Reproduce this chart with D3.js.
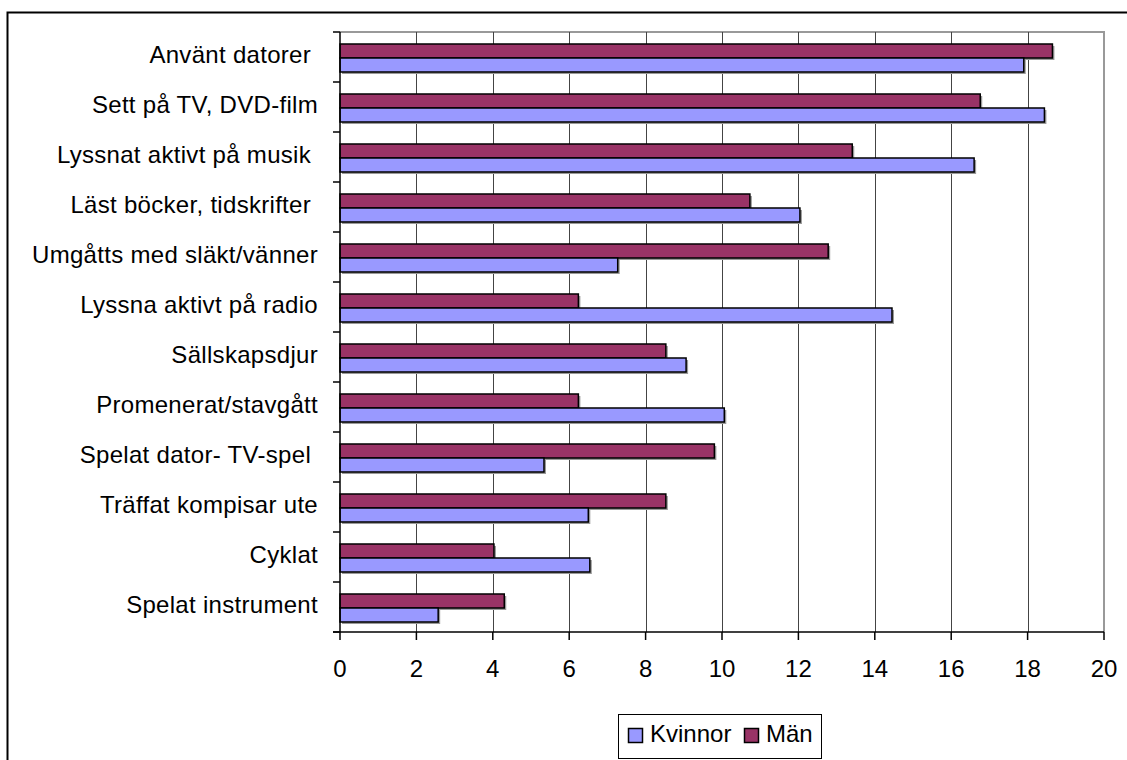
<!DOCTYPE html>
<html>
<head>
<meta charset="utf-8">
<script src="https://cdn.jsdelivr.net/npm/d3@7"></script>
<style>
  html, body { margin: 0; padding: 0; background: #fff; }
  svg { display: block; }
  text { font-family: "Liberation Sans", Arial, sans-serif; fill: #000; }
</style>
</head>
<body>
<svg id="chart" width="1127" height="760"></svg>
<script>
const categories = [
  "Använt datorer ",
  "Sett på TV, DVD-film",
  "Lyssnat aktivt på musik ",
  "Läst böcker, tidskrifter ",
  "Umgåtts med släkt/vänner",
  "Lyssna aktivt på radio",
  "Sällskapsdjur",
  "Promenerat/stavgått",
  "Spelat dator- TV-spel ",
  "Träffat kompisar ute",
  "Cyklat",
  "Spelat instrument"
];
const seriesNames = ["Kvinnor", "Män"];
const kvinnor = [17.9, 18.44, 16.6, 12.04, 7.27, 14.45, 9.06, 10.06, 5.34, 6.5, 6.54, 2.57];
const man     = [18.65, 16.76, 13.41, 10.73, 12.78, 6.24, 8.53, 6.24, 9.8, 8.53, 4.03, 4.3];
const xTicks = [0, 2, 4, 6, 8, 10, 12, 14, 16, 18, 20];
const colors = { "Kvinnor": "#9999FF", "Män": "#993366" };

const svg = d3.select("#chart");

// outer frame
svg.append("rect")
  .attr("x", 7.5).attr("y", 12.5)
  .attr("width", 1130).attr("height", 760)
  .attr("fill", "none").attr("stroke", "#000").attr("stroke-width", 2);

const plot = { left: 340, right: 1104, top: 32, bottom: 632 };

const x = d3.scaleLinear().domain([0, 20]).range([plot.left, plot.right]);
const y = d3.scaleBand().domain(categories).range([plot.top, plot.bottom]).padding(0);
const sub = d3.scaleBand().domain(["Män", "Kvinnor"]).range([12, 40]).padding(0);

// plot area top/right border
svg.append("path")
  .attr("d", `M${plot.left},${plot.top}H${plot.right}V${plot.bottom}`)
  .attr("fill", "none").attr("stroke", "#999").attr("stroke-width", 2);

// vertical gridlines
svg.append("g").selectAll("line")
  .data(xTicks.filter(d => d > 0 && d < 20))
  .join("line")
  .attr("x1", d => Math.round(x(d)) + 0.5).attr("x2", d => Math.round(x(d)) + 0.5)
  .attr("y1", plot.top).attr("y2", plot.bottom)
  .attr("stroke", "#444").attr("stroke-width", 1);

// bars
const rows = categories.map((c, i) => ({ cat: c, "Kvinnor": kvinnor[i], "Män": man[i] }));
const groups = svg.append("g").selectAll("g")
  .data(rows).join("g")
  .attr("transform", d => `translate(0,${y(d.cat)})`);

["Män", "Kvinnor"].forEach(s => {
  groups.append("rect")
    .attr("x", x(0) + 2)
    .attr("y", sub(s) + 2)
    .attr("width", d => x(d[s]) - x(0))
    .attr("height", sub.bandwidth())
    .attr("fill", "#999");
});
["Män", "Kvinnor"].forEach(s => {
  groups.append("rect")
    .attr("x", x(0))
    .attr("y", sub(s))
    .attr("width", d => x(d[s]) - x(0))
    .attr("height", sub.bandwidth())
    .attr("fill", colors[s])
    .attr("stroke", "#000").attr("stroke-width", 1.5);
});

// y axis
const yAxis = svg.append("g").attr("transform", `translate(${plot.left},0)`);
yAxis.append("line")
  .attr("x1", 0).attr("x2", 0).attr("y1", plot.top).attr("y2", plot.bottom)
  .attr("stroke", "#000").attr("stroke-width", 1.5);
const yBounds = categories.map(c => y(c)).concat([plot.bottom]);
yAxis.selectAll("line.tick").data(yBounds).join("line")
  .attr("class", "tick")
  .attr("x1", -7).attr("x2", 0)
  .attr("y1", d => d).attr("y2", d => d)
  .attr("stroke", "#000").attr("stroke-width", 1.5);
yAxis.selectAll("text").data(categories).join("text")
  .attr("x", -22)
  .attr("y", d => y(d) + y.bandwidth() / 2 + 5.5)
  .attr("text-anchor", "end")
  .attr("font-size", 24)
  .attr("letter-spacing", 0.3)
  .style("white-space", "pre")
  .text(d => d);

// x axis
const xAxis = svg.append("g").attr("transform", `translate(0,${plot.bottom})`);
xAxis.append("line")
  .attr("x1", plot.left - 7).attr("x2", plot.right).attr("y1", 0).attr("y2", 0)
  .attr("stroke", "#000").attr("stroke-width", 1.5);
xAxis.selectAll("line.tick").data(xTicks).join("line")
  .attr("class", "tick")
  .attr("x1", d => x(d)).attr("x2", d => x(d))
  .attr("y1", 0).attr("y2", 8)
  .attr("stroke", "#000").attr("stroke-width", 1.5);
xAxis.selectAll("text").data(xTicks).join("text")
  .attr("x", d => x(d))
  .attr("y", 45)
  .attr("text-anchor", "middle")
  .attr("font-size", 24)
  .text(d => d);

// legend
const legend = svg.append("g");
legend.append("rect")
  .attr("x", 618.5).attr("y", 714.5).attr("width", 203).attr("height", 44)
  .attr("fill", "#fff").attr("stroke", "#000").attr("stroke-width", 1);
const legendItems = [
  { name: seriesNames[0], sx: 628.5, tx: 650 },
  { name: seriesNames[1], sx: 744.5, tx: 766 }
];
legend.selectAll("rect.sw").data(legendItems).join("rect")
  .attr("class", "sw")
  .attr("x", d => d.sx).attr("y", 728.5).attr("width", 14).attr("height", 14)
  .attr("fill", d => colors[d.name]).attr("stroke", "#000").attr("stroke-width", 1.5);
legend.selectAll("text").data(legendItems).join("text")
  .attr("x", d => d.tx).attr("y", 742)
  .attr("font-size", 24)
  .text(d => d.name);
</script>
</body>
</html>
